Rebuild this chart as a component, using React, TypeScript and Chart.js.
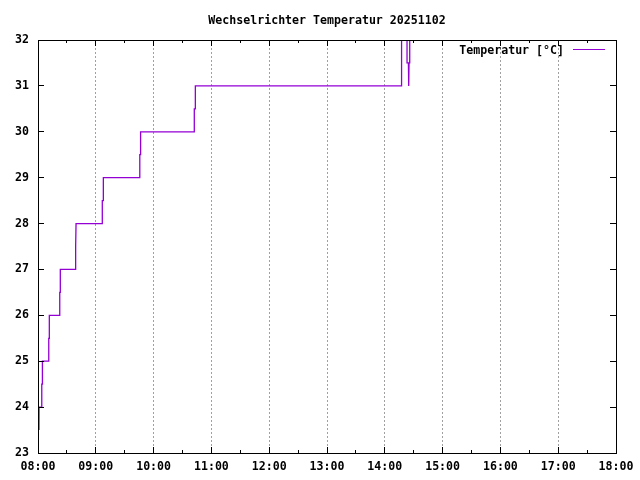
import { useEffect, useRef } from "react";
import { Chart, registerables } from "chart.js";

Chart.register(...registerables);

const TITLE = "Wechselrichter Temperatur 20251102";
const SERIES_LABEL = "Temperatur [°C]";
const LINE_COLOR = "#9400d3";

// Sample times (HH:MM:SS) and temperatures (°C); values above 32 are off the plot.
const TIMES = [
  "08:01:00", "08:01:05", "08:03:50", "08:03:55", "08:04:30", "08:04:35",
  "08:11:05", "08:11:10", "08:11:40", "08:11:45", "08:22:30", "08:22:35",
  "08:23:05", "08:23:10", "08:38:40", "08:38:45", "08:39:25", "08:39:30",
  "09:06:40", "09:06:45", "09:07:45", "09:07:50", "09:45:35", "09:45:40",
  "09:46:25", "09:46:30", "10:42:10", "10:42:15", "10:43:15", "10:43:20",
  "14:17:20", "14:17:25", "14:23:00", "14:23:05", "14:24:30", "14:24:35",
  "14:25:05", "14:25:10", "14:25:50", "14:25:55",
];
const TEMPS = [
  23.5, 24.0, 24.0, 24.5, 24.5, 25.0,
  25.0, 25.5, 25.5, 26.0, 26.0, 26.5,
  26.5, 27.0, 27.0, 27.5, 27.5, 28.0,
  28.0, 28.5, 28.5, 29.0, 29.0, 29.5,
  29.5, 30.0, 30.0, 30.5, 30.5, 31.0,
  31.0, 40.0, 40.0, 31.5, 31.5, 31.0,
  31.0, 31.5, 31.5, 40.0,
];
const X_TICK_LABELS = [
  "08:00", "09:00", "10:00", "11:00", "12:00", "13:00",
  "14:00", "15:00", "16:00", "17:00", "18:00",
];
const Y_TICKS = [23, 24, 25, 26, 27, 28, 29, 30, 31, 32];

const FONT_FAMILY = "'DejaVu Sans Mono', 'Liberation Mono', monospace";

function toMinutes(t: string): number {
  const [h, m, s] = t.split(":").map(Number);
  return h * 60 + m + (s || 0) / 60;
}
function labelToMinutes(l: string): number {
  const [h, m] = l.split(":").map(Number);
  return h * 60 + m;
}

const X_MIN = labelToMinutes(X_TICK_LABELS[0]);
const X_MAX = labelToMinutes(X_TICK_LABELS[X_TICK_LABELS.length - 1]);
const Y_MIN = Y_TICKS[0];
const Y_MAX = Y_TICKS[Y_TICKS.length - 1];

const crisp = (v: number) => Math.floor(v) + 0.5;

const framePlugin = {
  id: "gnuplotFrame",
  afterDraw(chart: any) {
    const { ctx, chartArea } = chart;
    const { left, right, top, bottom } = chartArea;
    const xs = chart.scales.x;
    const ys = chart.scales.y;
    ctx.save();
    ctx.strokeStyle = "#000000";
    ctx.lineWidth = 1;
    ctx.setLineDash([]);
    // inward ticks (major + half-hour minor on x), mirrored
    ctx.beginPath();
    for (let v = X_MIN; v <= X_MAX; v += 30) {
      const px = crisp(xs.getPixelForValue(v));
      const len = v % 60 === 0 ? 6 : 3;
      ctx.moveTo(px, bottom);
      ctx.lineTo(px, bottom - len);
      ctx.moveTo(px, top);
      ctx.lineTo(px, top + len);
    }
    for (const v of Y_TICKS) {
      const py = crisp(ys.getPixelForValue(v));
      ctx.moveTo(left, py);
      ctx.lineTo(left + 6, py);
      ctx.moveTo(right, py);
      ctx.lineTo(right - 6, py);
    }
    ctx.stroke();
    // border
    ctx.strokeRect(crisp(left), crisp(top), Math.round(right - left), Math.round(bottom - top));

    // title
    ctx.fillStyle = "#000000";
    ctx.font = `bold 11.6px ${FONT_FAMILY}`;
    ctx.textAlign = "center";
    ctx.textBaseline = "middle";
    ctx.fillText(TITLE, (left + right) / 2, 20.5);

    // legend
    ctx.textAlign = "right";
    ctx.fillText(SERIES_LABEL, right - 52, 50.5);
    ctx.strokeStyle = LINE_COLOR;
    ctx.beginPath();
    ctx.moveTo(right - 43, 49.5);
    ctx.lineTo(right - 11, 49.5);
    ctx.stroke();
    ctx.restore();
  },
};

export default function App() {
  const canvasRef = useRef<HTMLCanvasElement | null>(null);

  useEffect(() => {
    const canvas = canvasRef.current;
    if (!canvas) return;
    const points = TIMES.map((t, i) => ({ x: toMinutes(t), y: TEMPS[i] }));
    const gridColor = (c: any) =>
      c.tick && c.tick.value % 60 === 0 ? "#a0a0a0" : "rgba(0,0,0,0)";

    const chart = new Chart(canvas, {
      type: "line",
      data: {
        datasets: [
          {
            label: SERIES_LABEL,
            data: points,
            borderColor: LINE_COLOR,
            backgroundColor: LINE_COLOR,
            borderWidth: 1.3,
            pointRadius: 0,
            tension: 0,
            fill: false,
            clip: 0,
          } as any,
        ],
      },
      options: {
        animation: false,
        responsive: false,
        maintainAspectRatio: false,
        layout: { padding: { top: 40, right: 24, left: 0, bottom: 0 } },
        plugins: {
          legend: { display: false },
          title: { display: false },
          tooltip: { enabled: false },
        },
        scales: {
          x: {
            type: "linear",
            min: X_MIN,
            max: X_MAX,
            grid: { color: gridColor, lineWidth: 1, drawTicks: false },
            border: { display: false, dash: [2, 2] },
            ticks: {
              stepSize: 30,
              autoSkip: false,
              maxRotation: 0,
              padding: 7,
              color: "#000000",
              font: { family: FONT_FAMILY, size: 11.6, weight: "bold" },
              callback: (v: any) => {
                const n = Number(v);
                return n % 60 === 0 ? X_TICK_LABELS[(n - X_MIN) / 60] : "";
              },
            },
            afterFit: (s: any) => {
              s.height = 27;
              s.paddingLeft = 0;
              s.paddingRight = 0;
            },
          },
          y: {
            type: "linear",
            min: Y_MIN,
            max: Y_MAX,
            grid: { color: gridColor, lineWidth: 1, drawTicks: false },
            border: { display: false, dash: [2, 2] },
            ticks: {
              stepSize: 1,
              padding: 9,
              color: "#000000",
              font: { family: FONT_FAMILY, size: 11.6, weight: "bold" },
              callback: (v: any) => String(v),
            },
            afterFit: (s: any) => {
              s.width = 38;
              s.paddingTop = 0;
              s.paddingBottom = 0;
            },
          },
        },
      },
      plugins: [framePlugin],
    });
    return () => chart.destroy();
  }, []);

  return (
    <div style={{ position: "fixed", left: 0, top: 0, width: 640, height: 480, background: "#fff" }}>
      <canvas ref={canvasRef} width={640} height={480} />
    </div>
  );
}
